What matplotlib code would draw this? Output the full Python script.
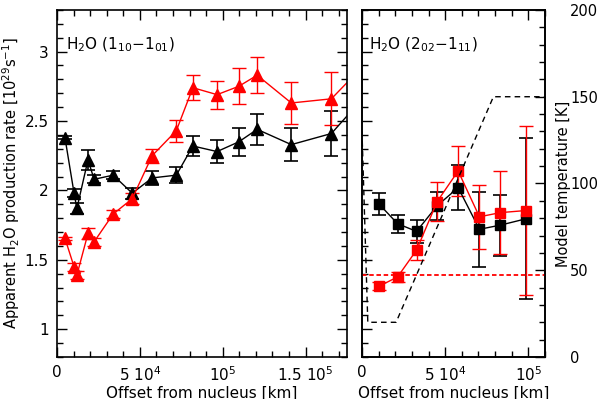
import matplotlib
matplotlib.use('Agg')
import matplotlib.pyplot as plt
from matplotlib.ticker import MultipleLocator

plt.rcParams['font.family'] = ['DejaVu Sans']
plt.rcParams['font.size'] = 11
plt.rcParams['mathtext.fontset'] = 'dejavusans'

# left panel, H2O 1_10-1_01 (offset in km)
r1 = [4800, 10300, 12000, 18700, 22400, 33900, 45400, 57400, 72000, 82000,
      96600, 109700, 120800, 141400, 165600, 185000]
q1_black = [2.38, 1.98, 1.87, 2.22, 2.08, 2.11, 1.98, 2.09, 2.11, 2.32,
            2.28, 2.35, 2.44, 2.33, 2.41, 2.67]
e1_black = [0.01, 0.03, 0.04, 0.07, 0.03, 0.03, 0.04, 0.05, 0.06, 0.07,
            0.08, 0.10, 0.11, 0.12, 0.16, 0.16]
q1_red = [1.655, 1.45, 1.39, 1.69, 1.63, 1.83, 1.94, 2.25, 2.43, 2.74,
          2.69, 2.75, 2.83, 2.63, 2.66, 2.90]
e1_red = [0.01, 0.03, 0.03, 0.04, 0.03, 0.03, 0.04, 0.05, 0.08, 0.09,
          0.10, 0.13, 0.13, 0.15, 0.19, 0.19]

# right panel, H2O 2_02-1_11
r2 = [10400, 21400, 32800, 45200, 57800, 70600, 83200, 98400]
q2_black = [1.90, 1.76, 1.705, 1.89, 2.02, 1.72, 1.75, 1.795]
e2_black = [0.08, 0.065, 0.085, 0.10, 0.16, 0.27, 0.22, 0.58]
q2_red = [1.31, 1.377, 1.57, 1.92, 2.14, 1.81, 1.84, 1.855]
e2_red = [0.03, 0.035, 0.07, 0.14, 0.18, 0.23, 0.30, 0.61]

# model temperature profile
rT = [0, 3500, 20500, 79000, 110000]
T = [130, 20, 20, 150, 150]
T_const = 47

fig = plt.figure(figsize=(6.0, 3.99), dpi=100)
ax1 = fig.add_axes([0.095, 0.1053, 0.4833, 0.8697])
ax2 = fig.add_axes([0.6033, 0.1053, 0.305, 0.8697])

ax1.errorbar(r1, q1_black, yerr=e1_black, color='black', marker='^', ms=8.5,
             lw=1, capsize=5, elinewidth=1.2, capthick=1.2)
ax1.errorbar(r1, q1_red, yerr=e1_red, color='red', marker='^', ms=8.5,
             lw=1, capsize=5, elinewidth=1, capthick=1)
ax1.set_xlim(0, 175000)
ax1.set_ylim(0.8, 3.3)
ax1.set_xticks([0, 50000, 100000, 150000])
ax1.set_xticklabels(['0', r'5 10$^4$', r'10$^5$', r'1.5 10$^5$'])
ax1.set_yticks([1, 1.5, 2, 2.5, 3])
ax1.set_yticklabels(['1', '1.5', '2', '2.5', '3'])
ax1.set_xlabel('Offset from nucleus [km]', labelpad=1)
ax1.set_ylabel(r'Apparent H$_2$O production rate [10$^{29}$s$^{-1}$]',
               fontsize=10.5)
ax1.yaxis.set_label_coords(-0.122, 0.5)
ax1.text(0.03, 0.9, r'H$_2$O (1$_{10}$$-$1$_{01}$)', transform=ax1.transAxes,
         fontsize=11, va='center')

ax2.errorbar(r2, q2_black, yerr=e2_black, color='black', marker='s', ms=7,
             lw=1, capsize=5, elinewidth=1.2, capthick=1.2)
ax2.errorbar(r2, q2_red, yerr=e2_red, color='red', marker='s', ms=7,
             lw=1, capsize=5, elinewidth=1, capthick=1)
ax2.set_xlim(0, 110000)
ax2.set_ylim(0.8, 3.3)
ax2.set_xticks([0, 50000, 100000])
ax2.set_xticklabels(['0', r'5 10$^4$', r'10$^5$'])
ax2.set_yticks([1, 1.5, 2, 2.5, 3])
ax2.set_yticklabels([])
ax2.set_xlabel('Offset from nucleus [km]', labelpad=1)
ax2.text(0.04, 0.9, r'H$_2$O (2$_{02}$$-$1$_{11}$)', transform=ax2.transAxes,
         fontsize=11, va='center')

for ax in (ax1, ax2):
    ax.xaxis.set_minor_locator(MultipleLocator(10000))
    ax.yaxis.set_minor_locator(MultipleLocator(0.1))
    ax.tick_params(which='both', direction='in', top=True, right=(ax is ax1))
    ax.tick_params(which='major', length=7, width=1, pad=6)
    ax.tick_params(which='minor', length=4, width=1)
    for s in ax.spines.values():
        s.set_linewidth(1.2)

ax2.tick_params(which='both', right=False)

axT = ax2.twinx()
axT.plot(rT, T, color='black', ls=(0, (4, 3)), lw=1)
axT.axhline(T_const, color='red', ls=(0, (2.5, 1.5)), lw=1.3)
axT.set_ylim(0, 200)
axT.set_yticks([0, 50, 100, 150, 200])
axT.yaxis.set_minor_locator(MultipleLocator(10))
axT.tick_params(which='both', direction='in')
axT.tick_params(which='major', length=7, width=1, pad=18, labelsize=10.5)
axT.tick_params(which='minor', length=4, width=1)
axT.set_ylabel('Model temperature [K]', fontsize=10.5)
axT.yaxis.set_label_coords(1.062, 0.5)
for s in axT.spines.values():
    s.set_linewidth(1.2)

fig.savefig('out.png', dpi=100)
